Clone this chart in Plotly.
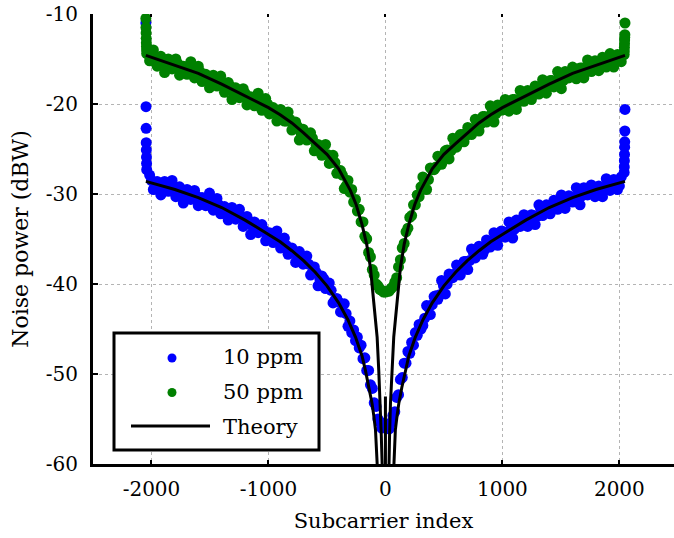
import plotly.graph_objects as go

FONT = "DejaVu Serif"

# ---------------- subcarrier indices of the simulated points ----------------
K_EDGE_L = [-2048, -2047, -2046, -2045, -2044, -2043, -2042, -2041]
K_OUT_L = list(range(-2016, -319, 32))
K_MID_L = list(range(-2000, -335, 32))
K_IN = list(range(-304, 305, 16))
K_MID_R = list(range(336, 2001, 32))
K_OUT_R = list(range(320, 2017, 32))
K_EDGE_R = [2041, 2042, 2043, 2044, 2045, 2046, 2047, 2048]

# ---------------- 10 ppm simulated noise power (dBW) ----------------
P10_EDGE_L = [-11.0, -20.3, -22.7, -24.3, -25.1, -25.9, -26.6, -27.3]
P10_OUT_L = [-27.9, -29.5, -28.6, -30.1, -28.6, -29.7, -28.5, -30.3, -29.2, -31.0,
             -29.5, -30.6, -29.6, -31.3, -30.4, -31.3, -29.9, -31.8, -30.5, -32.2,
             -31.4, -32.9, -31.5, -32.8, -31.7, -33.6, -32.5, -34.5, -33.1, -34.3,
             -33.4, -35.2, -34.3, -35.4, -34.1, -36.0, -34.9, -36.7, -36.0, -37.6,
             -36.4, -37.8, -36.9, -39.0, -38.1, -40.2, -39.1, -40.5, -39.9, -42.1,
             -41.6, -43.1, -42.2, -44.7]
P10_MID_L = [-28.5, -29.2, -28.9, -29.4, -29.0, -29.5, -29.3, -29.9, -29.7, -30.1,
             -29.7, -30.3, -30.2, -30.8, -30.6, -31.0, -30.7, -31.3, -31.2, -31.9,
             -31.7, -32.2, -32.0, -32.6, -32.5, -33.2, -33.0, -33.6, -33.4, -34.0,
             -34.0, -34.7, -34.5, -35.2, -34.9, -35.6, -35.7, -36.4, -36.3, -37.0,
             -36.9, -37.7, -37.8, -38.7, -38.7, -39.5, -39.4, -40.4, -40.7, -41.8,
             -42.0, -43.1, -43.3]
P10_IN = [-44.1, -45.4, -45.1, -46.3, -45.9, -47.1, -46.8, -48.3, -48.2, -49.6,
          -49.6, -51.2, -51.6, -53.2, -53.6, -55.0, -55.3, -56.0, None, None,
          None, -56.1, -55.4, -54.6, -54.2, -52.6, -52.3, -50.6, -50.4, -48.8,
          -48.8, -47.5, -47.7, -46.5, -46.8, -45.4, -45.7, -44.5, -45.0]
P10_MID_R = [-43.8, -42.6, -42.3, -41.3, -41.2, -40.2, -40.0, -39.0, -38.9, -38.2,
             -38.3, -37.5, -37.4, -36.5, -36.6, -36.0, -36.2, -35.4, -35.4, -34.7,
             -34.8, -34.2, -34.5, -33.9, -33.9, -33.1, -33.3, -32.7, -33.0, -32.4,
             -32.5, -31.7, -31.9, -31.4, -31.7, -31.1, -31.2, -30.5, -30.8, -30.3,
             -30.7, -30.1, -30.2, -29.6, -29.9, -29.4, -29.8, -29.3, -29.5, -28.9,
             -29.1, -28.7, -29.1]
P10_OUT_R = [-44.6, -42.4, -43.4, -41.4, -41.7, -39.6, -41.1, -38.9, -39.3, -37.9,
             -39.0, -37.5, -38.4, -36.1, -37.1, -35.8, -36.7, -35.1, -35.9, -34.3,
             -35.7, -34.1, -34.8, -33.1, -34.9, -32.9, -33.6, -32.3, -33.6, -32.3,
             -33.4, -31.2, -32.4, -31.2, -32.2, -30.7, -31.7, -30.1, -31.6, -30.2,
             -30.9, -29.3, -31.2, -29.3, -30.1, -29.0, -30.3, -29.1, -30.3, -28.3,
             -29.6, -28.4, -29.5, -28.1]
P10_EDGE_R = [-27.6, -27.0, -26.3, -25.6, -24.8, -24.2, -23.0, -20.6]

# ---------------- 50 ppm simulated noise power (dBW) ----------------
P50_EDGE_L = [-10.5, -11.5, -12.1, -12.7, -13.2, -13.6, -14.0, -14.4]
P50_OUT_L = [-15.2, -14.0, -15.8, -14.7, -16.5, -15.0, -16.1, -15.0, -16.8, -15.8,
             -16.7, -15.3, -17.1, -15.8, -17.5, -16.7, -18.2, -16.8, -18.0, -16.9,
             -18.7, -17.6, -19.5, -18.2, -19.3, -18.3, -20.1, -19.2, -20.2, -18.8,
             -20.7, -19.4, -21.1, -20.4, -21.9, -20.6, -21.9, -20.9, -22.9, -22.0,
             -24.0, -22.8, -24.0, -23.2, -25.2, -24.5, -25.7, -24.5, -26.6, -25.7,
             -27.7, -27.4, -29.4, -28.5]
P50_MID_L = [-15.0, -14.7, -15.2, -15.1, -15.7, -15.4, -15.9, -15.5, -16.0, -15.9,
             -16.5, -16.2, -16.7, -16.4, -17.0, -16.9, -17.6, -17.4, -17.9, -17.6,
             -18.1, -18.0, -18.8, -18.6, -19.1, -18.8, -19.4, -19.3, -20.0, -19.8,
             -20.3, -20.0, -20.7, -20.6, -21.4, -21.3, -21.9, -21.7, -22.4, -22.5,
             -23.3, -23.3, -23.9, -23.8, -24.6, -24.7, -25.6, -25.6, -26.4, -26.5,
             -27.5, -27.9, -29.1]
P50_IN = [-29.8, -29.5, -30.9, -30.6, -31.9, -31.7, -33.1, -33.1, -34.7, -35.0,
          -36.5, -37.0, -38.4, -39.0, -40.0, -40.2, -40.6, -40.7, -40.9, -40.9,
          -40.8, -40.8, -40.5, -40.3, -39.8, -39.3, -38.1, -37.3, -36.0, -35.5,
          -34.2, -33.8, -32.6, -32.4, -31.2, -31.2, -30.1, -30.3, -29.2]
P50_MID_R = [-28.6, -28.4, -27.3, -27.0, -25.9, -25.8, -25.1, -25.2, -24.4, -24.3,
             -23.4, -23.5, -22.8, -23.0, -22.2, -22.2, -21.4, -21.5, -20.9, -21.1,
             -20.5, -20.5, -19.8, -20.0, -19.5, -19.8, -19.2, -19.3, -18.6, -18.8,
             -18.3, -18.5, -17.9, -18.1, -17.4, -17.6, -17.1, -17.4, -16.8, -16.9,
             -16.2, -16.5, -16.0, -16.4, -15.9, -16.0, -15.4, -15.6, -15.2, -15.6,
             -15.0, -15.2, -14.6]
P50_OUT_R = [-28.1, -29.5, -27.1, -27.3, -25.8, -26.7, -25.2, -26.1, -23.8, -24.8,
             -23.4, -24.2, -22.6, -23.4, -21.7, -23.0, -21.4, -22.0, -20.2, -22.0,
             -20.1, -20.7, -19.5, -20.8, -19.5, -20.6, -18.5, -19.7, -18.5, -19.5,
             -18.0, -18.9, -17.3, -18.8, -17.4, -18.1, -16.4, -18.3, -16.4, -17.1,
             -15.9, -17.2, -16.0, -17.1, -15.1, -16.4, -15.2, -16.3, -14.8, -15.9,
             -14.4, -15.9, -14.5, -15.3]
P50_EDGE_R = [-14.5, -14.1, -13.7, -13.3, -12.9, -12.6, -12.3, -11.0]

# ---------------- theory curves ----------------
K_TH10 = [-2048, -1800, -1600, -1400, -1200, -1000, -900, -800, -700, -600, -500,
          -400, -320, -256, -200, -171, -140, -114, -100, -85, -71, -60, -1, 0,
          1, 60, 71, 85, 100, 114, 140, 171, 200, 256, 320, 400, 500, 600, 700,
          800, 900, 1000, 1200, 1400, 1600, 1800, 2048]
TH10 = [-28.6, -29.5, -30.4, -31.5, -32.9, -34.5, -35.3, -36.3, -37.4, -38.7, -40.2,
        -42.1, -44.0, -45.9, -48.0, -49.6, -51.5, -53.3, -54.6, -56.2, -59.9, -64.0, -95.0, -52.5,
        -95.0, -64.0, -59.9, -56.2, -54.6, -53.3, -51.5, -49.6, -48.0, -45.9, -44.0, -42.1, -40.2, -38.7, -37.4,
        -36.3, -35.3, -34.5, -32.9, -31.5, -30.4, -29.5, -28.6]

K_TH50 = [-2048, -1800, -1600, -1400, -1200, -1000, -900, -800, -700, -600, -500,
          -400, -300, -250, -200, -160, -128, -100, -85, -71, -57, -43, -35, -28,
          -10, 0, 10, 28, 35, 43, 57, 71, 85, 100, 128, 160, 200, 250, 300, 400,
          500, 600, 700, 800, 900, 1000, 1200, 1400, 1600, 1800, 2048]
TH50 = [-14.6, -15.7, -16.6, -17.8, -19.1, -20.4, -21.2, -22.1, -23.2, -24.4, -25.6,
        -27.2, -29.6, -31.2, -33.4, -35.6, -38.2, -42.0, -44.0, -45.9, -49.6, -53.3, -57.0, -60.0,
        -75.0, -95.0, -75.0, -60.0, -57.0, -53.3, -49.6, -45.9, -44.0, -42.0, -38.2, -35.6, -33.4, -31.2, -29.6, -27.2,
        -25.6, -24.4, -23.2, -22.1, -21.2, -20.4, -19.1, -17.8, -16.6, -15.7, -14.6]

X_TICKS = [-2000, -1000, 0, 1000, 2000]
X_TICK_TEXT = ["-2000", "-1000", "0", "1000", "2000"]
Y_TICKS = [-60, -50, -40, -30, -20, -10]
Y_TICK_TEXT = ["-60", "-50", "-40", "-30", "-20", "-10"]
LEGEND_LABELS = ["10 ppm", "50 ppm", "Theory"]
BLUE, GREEN, BLACK = "#0000ff", "#008000", "#000000"

K_ALL = K_EDGE_L + K_OUT_L + K_MID_L + K_IN + K_MID_R + K_OUT_R + K_EDGE_R
P10 = P10_EDGE_L + P10_OUT_L + P10_MID_L + P10_IN + P10_MID_R + P10_OUT_R + P10_EDGE_R
P50 = P50_EDGE_L + P50_OUT_L + P50_MID_L + P50_IN + P50_MID_R + P50_OUT_R + P50_EDGE_R

fig = go.Figure()
fig.add_trace(go.Scatter(x=K_ALL, y=P10, mode="markers", name=LEGEND_LABELS[0],
                         marker=dict(color=BLUE, size=11, line=dict(width=0))))
fig.add_trace(go.Scatter(x=K_ALL, y=P50, mode="markers", name=LEGEND_LABELS[1],
                         marker=dict(color=GREEN, size=11, line=dict(width=0))))
fig.add_trace(go.Scatter(x=K_TH10, y=TH10, mode="lines", name=LEGEND_LABELS[2],
                         line=dict(color=BLACK, width=3)))
fig.add_trace(go.Scatter(x=K_TH50, y=TH50, mode="lines", name=LEGEND_LABELS[2],
                         line=dict(color=BLACK, width=3)))
# top mirrored tick marks
fig.add_trace(go.Scatter(x=[None], y=[None], xaxis="x2", mode="markers",
                         showlegend=False, hoverinfo="skip"))

# plot area in pixels: left 93, right 674, top 14, bottom 464
L, R, T, B = 93, 674, 14, 464
W, H = 674, 538
def px(x):
    return (x - L) / (R - L)
def py(y):
    return (B - y) / (B - T)

shapes = [
    dict(type="rect", xref="paper", yref="paper", x0=px(114), x1=px(319), y0=py(450), y1=py(333),
         line=dict(color=BLACK, width=3), fillcolor="white", layer="above"),
    dict(type="circle", xref="paper", yref="paper", x0=px(167.5), x1=px(176.5), y0=py(362.5), y1=py(353.5),
         line=dict(width=0), fillcolor=BLUE, layer="above"),
    dict(type="circle", xref="paper", yref="paper", x0=px(167.5), x1=px(176.5), y0=py(397), y1=py(388),
         line=dict(width=0), fillcolor=GREEN, layer="above"),
    dict(type="line", xref="paper", yref="paper", x0=px(131), x1=px(210), y0=py(426), y1=py(426),
         line=dict(color=BLACK, width=3), layer="above"),
]
annotations = []
for lab, yy in zip(LEGEND_LABELS, [357, 392, 427]):
    annotations.append(dict(text=lab, xref="paper", yref="paper", x=px(221), y=py(yy),
                            xanchor="left", yanchor="middle", showarrow=False,
                            font=dict(family=FONT, size=21, color=BLACK)))

fig.update_layout(
    width=W, height=H,
    margin=dict(l=L, r=W - R, t=T, b=H - B, autoexpand=False),
    paper_bgcolor="white", plot_bgcolor="white",
    showlegend=False,
    font=dict(family=FONT, size=20, color=BLACK),
    shapes=shapes, annotations=annotations,
    xaxis=dict(range=[-2500, 2467], tickvals=X_TICKS, ticktext=X_TICK_TEXT, ticks="inside",
               ticklen=4, tickwidth=2, automargin=False, ticklabelstandoff=5,
               tickcolor=BLACK, showline=True, linewidth=3, linecolor=BLACK,
               showgrid=True, gridcolor="#b4b4b4", griddash="dot", gridwidth=1,
               zeroline=False, tickfont=dict(family=FONT, size=20),
               title=dict(text="Subcarrier index", font=dict(family=FONT, size=21), standoff=14)),
    xaxis2=dict(range=[-2500, 2467], overlaying="x", side="top", tickvals=X_TICKS,
                ticks="inside", ticklen=3, tickwidth=2, tickcolor=BLACK, automargin=False,
                showticklabels=False, showline=False, showgrid=False, zeroline=False),
    yaxis=dict(range=[-60, -10], tickvals=Y_TICKS, ticktext=Y_TICK_TEXT, ticks="inside",
               ticklen=5, tickwidth=2, automargin=False, ticklabelstandoff=8,
               tickcolor=BLACK, showline=True, linewidth=3, linecolor=BLACK,
               showgrid=True, gridcolor="#b4b4b4", griddash="dot", gridwidth=1,
               zeroline=False, tickfont=dict(family=FONT, size=20),
               title=dict(text="Noise power (dBW)", font=dict(family=FONT, size=22), standoff=12)),
)

fig.write_html("out.html", config={"displayModeBar": False},
               post_script="document.body.style.margin='0px';document.body.style.overflow='hidden';")
